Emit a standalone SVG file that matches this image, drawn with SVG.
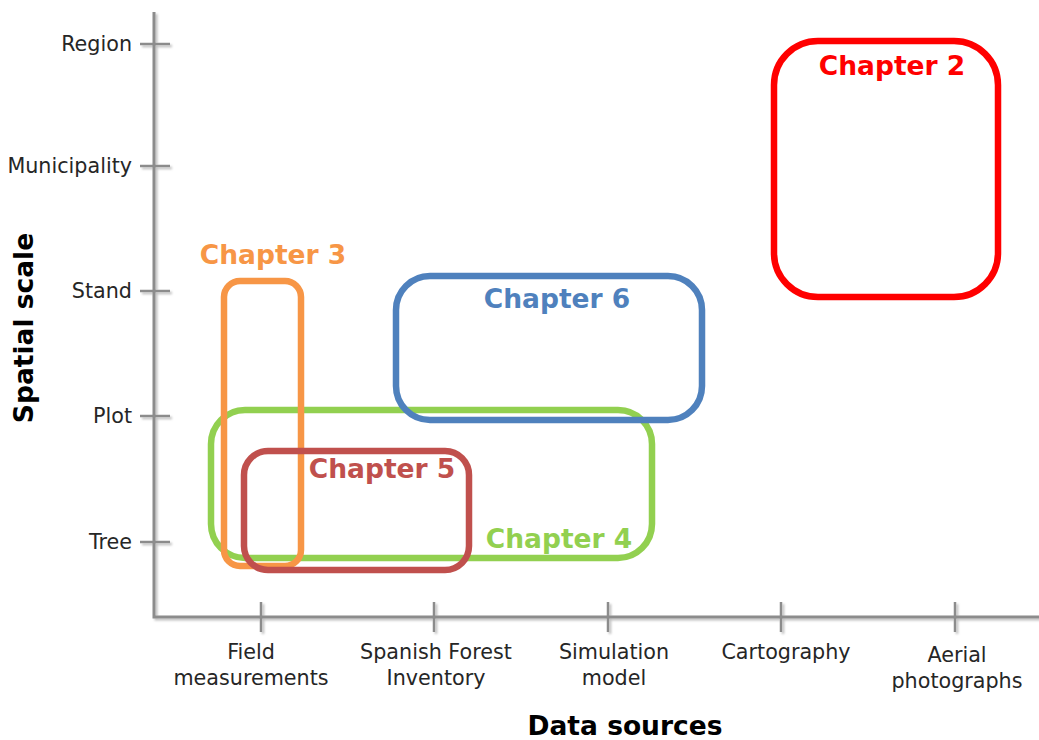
<svg xmlns="http://www.w3.org/2000/svg" width="1039" height="740" viewBox="0 0 1039 740">
  <defs>
    <filter id="soft" x="-5%" y="-5%" width="110%" height="110%">
      <feDropShadow dx="2" dy="2" stdDeviation="1.2" flood-color="#000" flood-opacity="0.25"/>
    </filter>
  </defs>
  <style>
    .axis { stroke: #8c8c8c; stroke-width: 3; fill: none; }
    .tick { stroke: #8c8c8c; stroke-width: 2.5; fill: none; }
    .lbl { font-family: "DejaVu Sans", Verdana, sans-serif; font-size: 20.7px; fill: #262626; }
    .title { font-family: "DejaVu Sans", Verdana, sans-serif; font-size: 26.5px; font-weight: bold; fill: #000; }
    .box { fill: none; stroke-width: 6.5; }
    .chap { font-family: "DejaVu Sans", Verdana, sans-serif; font-size: 26.5px; font-weight: bold; text-anchor: middle; }
  </style>
  <rect width="1039" height="740" fill="#ffffff"/>

  <!-- axes and ticks -->
  <g id="axes" filter="url(#soft)">
    <path class="axis" d="M154,12 V617 H1039"/>
    <path class="tick" d="M140,44 H170 M140,166 H170 M140,291 H170 M140,416 H170 M140,542 H170"/>
    <path class="tick" d="M261,602 V632 M434,602 V632 M608,602 V632 M781,602 V632 M955,602 V632"/>
  </g>

  <!-- y axis labels -->
  <g id="y-labels" class="lbl" text-anchor="end">
    <text x="132" y="51">Region</text>
    <text x="132" y="173">Municipality</text>
    <text x="132" y="298">Stand</text>
    <text x="132" y="423">Plot</text>
    <text x="132" y="549">Tree</text>
  </g>

  <!-- x axis labels -->
  <g id="x-labels" class="lbl" text-anchor="middle">
    <text x="251" y="659">Field</text>
    <text x="251" y="685">measurements</text>
    <text x="436" y="659">Spanish Forest</text>
    <text x="436" y="685">Inventory</text>
    <text x="614" y="659">Simulation</text>
    <text x="614" y="685">model</text>
    <text x="786" y="659">Cartography</text>
    <text x="957" y="662">Aerial</text>
    <text x="957" y="688">photographs</text>
  </g>

  <!-- axis titles -->
  <text class="title" x="625" y="735" text-anchor="middle">Data sources</text>
  <text class="title" x="0" y="0" text-anchor="middle" transform="translate(33,328) rotate(-90)">Spatial scale</text>

  <!-- chapter regions -->
  <g id="chapter4">
    <rect class="box" stroke="#92D050" x="211" y="410" width="441" height="148" rx="34"/>
    <text class="chap" fill="#92D050" x="559" y="548">Chapter 4</text>
  </g>
  <g id="chapter3">
    <rect class="box" stroke="#F79646" x="224" y="281" width="77" height="285" rx="16"/>
    <text class="chap" fill="#F79646" x="273" y="264">Chapter 3</text>
  </g>
  <g id="chapter5">
    <rect class="box" stroke="#C0504D" x="244" y="451" width="225" height="119" rx="24"/>
    <text class="chap" fill="#C0504D" x="382" y="478">Chapter 5</text>
  </g>
  <g id="chapter6">
    <rect class="box" stroke="#4F81BD" x="396" y="276" width="306" height="144" rx="34"/>
    <text class="chap" fill="#4F81BD" x="557" y="308">Chapter 6</text>
  </g>
  <g id="chapter2">
    <rect class="box" stroke="#FF0000" x="774" y="41" width="224" height="256" rx="44"/>
    <text class="chap" fill="#FF0000" x="892" y="75">Chapter 2</text>
  </g>
</svg>
